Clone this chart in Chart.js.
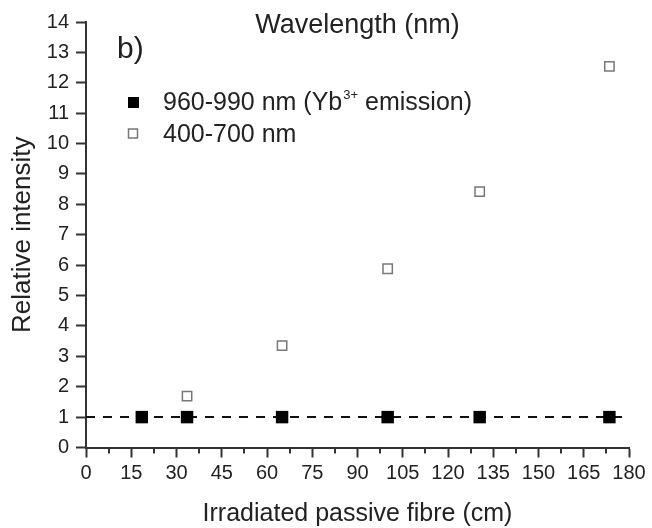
<!DOCTYPE html>
<html>
<head>
<meta charset="utf-8">
<script src="https://cdn.jsdelivr.net/npm/chart.js@4.4.1/dist/chart.umd.min.js"></script>
<style>
  html, body { margin: 0; padding: 0; background: #fff; }
  #wrap { width: 652px; height: 528px; }
</style>
</head>
<body>
<div id="wrap"><canvas id="myChart" width="652" height="528"></canvas></div>
<script>
// comprimento de fibra irradiada (cm) e intensidade relativa
const comprimentoYb = [18.5, 33.5, 65, 100, 130.5, 173.5];
const intensidadeYb = [1, 1, 1, 1, 1, 1];
const comprimentoVisivel = [33.5, 65, 100, 130.5, 173.5];
const intensidadeVisivel = [1.69, 3.35, 5.88, 8.42, 12.54];
// linha tracejada no nivel 1
const linhaRefX = [0, 178];
const linhaRefY = [1, 1];

const ticksX = [0, 15, 30, 45, 60, 75, 90, 105, 120, 135, 150, 165, 180];
const ticksMenoresX = [7.5, 22.5, 37.5, 52.5, 67.5, 82.5, 97.5, 112.5, 127.5, 142.5, 157.5, 172.5];
const ticksY = [0, 1, 2, 3, 4, 5, 6, 7, 8, 9, 10, 11, 12, 13, 14];

const fonte = '"Liberation Sans", Arial, sans-serif';
const corTexto = '#222';
const corEixo = '#333';

const ctx = document.getElementById('myChart');

let dataYb = [];
for (let i = 0; i < comprimentoYb.length; i++) {
  dataYb.push({ x: comprimentoYb[i], y: intensidadeYb[i] });
}
let dataVisivel = [];
for (let i = 0; i < comprimentoVisivel.length; i++) {
  dataVisivel.push({ x: comprimentoVisivel[i], y: intensidadeVisivel[i] });
}
let dataRef = [];
for (let i = 0; i < linhaRefX.length; i++) {
  dataRef.push({ x: linhaRefX[i], y: linhaRefY[i] });
}

// textos dentro do grafico, legenda e ticks menores do eixo x
const textos = {
  id: 'textos',
  afterDraw(chart) {
    const { ctx, chartArea, scales } = chart;
    const esq = chartArea.left;
    const topo = chartArea.top;
    ctx.save();

    // ticks menores
    ctx.strokeStyle = corEixo;
    ctx.lineWidth = 2;
    ticksMenoresX.forEach(v => {
      const px = Math.round(scales.x.getPixelForValue(v));
      ctx.beginPath();
      ctx.moveTo(px, chartArea.bottom);
      ctx.lineTo(px, chartArea.bottom + 6);
      ctx.stroke();
    });

    ctx.fillStyle = corTexto;
    ctx.textBaseline = 'alphabetic';

    ctx.font = '27px ' + fonte;
    ctx.textAlign = 'center';
    ctx.fillText('Wavelength (nm)', (chartArea.left + chartArea.right) / 2, topo + 11);

    ctx.textAlign = 'left';
    ctx.font = '30px ' + fonte;
    ctx.fillText('b)', esq + 31, topo + 36);

    // legenda
    ctx.fillStyle = '#000';
    ctx.fillRect(esq + 42, topo + 75, 11, 11);
    ctx.fillStyle = '#fff';
    ctx.strokeStyle = '#777';
    ctx.lineWidth = 1.5;
    ctx.fillRect(esq + 42.5, topo + 107, 9, 9);
    ctx.strokeRect(esq + 42.5, topo + 107, 9, 9);

    ctx.fillStyle = corTexto;
    ctx.font = '25px ' + fonte;
    let x = esq + 77;
    const parte1 = '960-990 nm (Yb';
    ctx.fillText(parte1, x, topo + 88);
    x += ctx.measureText(parte1).width;
    ctx.font = '13px ' + fonte;
    ctx.fillText('3+', x + 1, topo + 77);
    x += ctx.measureText('3+').width + 1;
    ctx.font = '25px ' + fonte;
    ctx.fillText(' emission)', x, topo + 88);
    ctx.fillText('400-700 nm', esq + 77, topo + 120);

    ctx.restore();
  }
};

new Chart(ctx, {
  type: 'scatter',
  data: {
    datasets: [{
      label: '960-990 nm (Yb3+ emission)',
      data: dataYb,
      pointStyle: 'rect',
      pointRadius: 8.8,
      pointBackgroundColor: '#000',
      pointBorderWidth: 0,
      showLine: false,
      clip: false
    },
    {
      label: '400-700 nm',
      data: dataVisivel,
      pointStyle: 'rect',
      pointRadius: 6.6,
      pointBackgroundColor: '#fff',
      pointBorderColor: '#777',
      pointBorderWidth: 1.5,
      showLine: false,
      clip: false
    },
    {
      label: 'ref',
      data: dataRef,
      showLine: true,
      pointRadius: 0,
      borderColor: '#111',
      borderWidth: 2,
      borderDash: [9, 8],
      tension: 0,
      clip: false
    }
    ]
  },
  options: {
    responsive: false,
    animation: false,
    layout: { padding: { top: 22, right: 23, left: 0, bottom: 0 } },
    scales: {
      x: {
        type: 'linear',
        min: 0,
        max: 180,
        afterBuildTicks: s => { s.ticks = ticksX.map(v => ({ value: v })); },
        afterFit: s => { s.height = 80.5; },
        grid: { drawOnChartArea: false, drawTicks: true, tickLength: 10, tickColor: corEixo, tickWidth: 2 },
        border: { display: true, color: corEixo, width: 2 },
        ticks: { color: corTexto, font: { family: fonte, size: 20 }, padding: 4, maxRotation: 0, autoSkip: false },
        title: {
          display: true,
          text: 'Irradiated passive fibre (cm)',
          color: corTexto,
          font: { family: fonte, size: 25, lineHeight: 1 },
          padding: { top: 0, bottom: 1 }
        }
      },
      y: {
        type: 'linear',
        min: 0,
        max: 14,
        afterBuildTicks: s => { s.ticks = ticksY.map(v => ({ value: v })); },
        afterFit: s => { s.width = 86; },
        grid: { drawOnChartArea: false, drawTicks: true, tickLength: 10, tickColor: corEixo, tickWidth: 2 },
        border: { display: true, color: corEixo, width: 2 },
        ticks: { color: corTexto, font: { family: fonte, size: 20 }, padding: 7, autoSkip: false },
        title: {
          display: true,
          text: 'Relative intensity',
          color: corTexto,
          font: { family: fonte, size: 26, lineHeight: 1 },
          padding: { top: 10, bottom: 0 }
        }
      }
    },
    plugins: {
      legend: { display: false },
      tooltip: { enabled: false }
    }
  },
  plugins: [textos]
});
</script>
</body>
</html>
